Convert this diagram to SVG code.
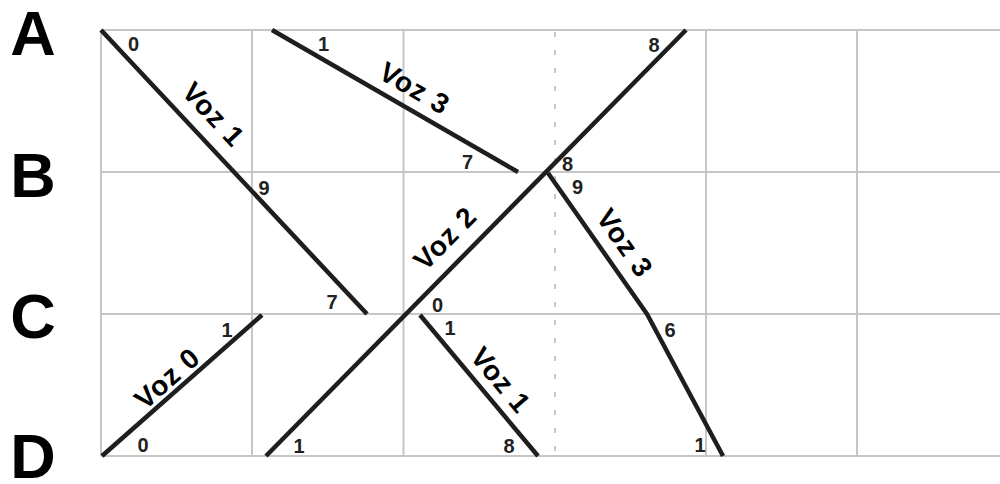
<svg xmlns="http://www.w3.org/2000/svg" width="1000" height="484" viewBox="0 0 1000 484">
<style>
.grid{stroke:#c6c6c6;stroke-width:2;fill:none}
.dash{stroke:#c6c6c6;stroke-width:2;stroke-dasharray:5 13;fill:none}
.voice{stroke:#1e1e1e;stroke-width:4.5;fill:none;stroke-linecap:butt;stroke-linejoin:round}
.row{font-family:"Liberation Sans",Arial,sans-serif;font-weight:bold;font-size:63px;fill:#000;text-anchor:middle}
.num{font-family:"Liberation Sans",Arial,sans-serif;font-weight:bold;font-size:20px;fill:#222;text-anchor:middle}
.lbl{font-family:"Liberation Sans",Arial,sans-serif;font-weight:bold;font-size:28px;fill:#000;text-anchor:middle;letter-spacing:1px}
</style>
<rect width="1000" height="484" fill="#ffffff"/>
<g id="grid">
<line class="grid" x1="101" y1="30" x2="1000" y2="30"/>
<line class="grid" x1="101" y1="172" x2="1000" y2="172"/>
<line class="grid" x1="101" y1="314" x2="1000" y2="314"/>
<line class="grid" x1="101" y1="456" x2="1000" y2="456"/>
<line class="grid" x1="101" y1="30" x2="101" y2="456"/>
<line class="grid" x1="252" y1="30" x2="252" y2="456"/>
<line class="grid" x1="403.5" y1="30" x2="403.5" y2="456"/>
<line class="dash" x1="555" y1="32" x2="555" y2="456"/>
<line class="grid" x1="706" y1="30" x2="706" y2="456"/>
<line class="grid" x1="857" y1="30" x2="857" y2="456"/>
</g>
<g id="rows">
<text class="row" x="33" y="55">A</text>
<text class="row" x="33" y="197">B</text>
<text class="row" x="33" y="338">C</text>
<text class="row" x="33" y="478">D</text>
</g>
<g id="connectors">
<g id="voz1-top">
<line class="voice" x1="101" y1="30" x2="367" y2="314"/>
<text class="lbl" transform="translate(206.5 121) rotate(46.9)">Voz 1</text>
<text class="num" x="133.5" y="51">0</text>
<text class="num" x="264" y="195">9</text>
<text class="num" x="332" y="309">7</text>
</g>
<g id="voz3-top">
<line class="voice" x1="272" y1="30" x2="518" y2="172"/>
<text class="lbl" transform="translate(410 96.5) rotate(30)">Voz 3</text>
<text class="num" x="323.5" y="51">1</text>
<text class="num" x="467.5" y="169">7</text>
</g>
<g id="voz2">
<line class="voice" x1="266" y1="456" x2="686" y2="30"/>
<text class="lbl" transform="translate(452 245) rotate(-45.4)">Voz 2</text>
<text class="num" x="654" y="52">8</text>
<text class="num" x="567.5" y="171">8</text>
<text class="num" x="437.5" y="312">0</text>
<text class="num" x="299" y="453">1</text>
</g>
<g id="voz3-bottom">
<polyline class="voice" points="548,173 647,314 723,456"/>
<text class="lbl" transform="translate(617 248.7) rotate(54.9)">Voz 3</text>
<text class="num" x="577.5" y="194">9</text>
<text class="num" x="670" y="337">6</text>
<text class="num" x="700" y="452">1</text>
</g>
<g id="voz1-bottom">
<line class="voice" x1="420" y1="315" x2="538" y2="456"/>
<text class="lbl" transform="translate(493.4 386.4) rotate(50.1)">Voz 1</text>
<text class="num" x="450" y="335">1</text>
<text class="num" x="509" y="453">8</text>
</g>
<g id="voz0">
<line class="voice" x1="102" y1="456" x2="262" y2="315"/>
<text class="lbl" transform="translate(173.6 385.5) rotate(-41.4)">Voz 0</text>
<text class="num" x="143" y="452">0</text>
<text class="num" x="227" y="337">1</text>
</g>
</g>
</svg>
